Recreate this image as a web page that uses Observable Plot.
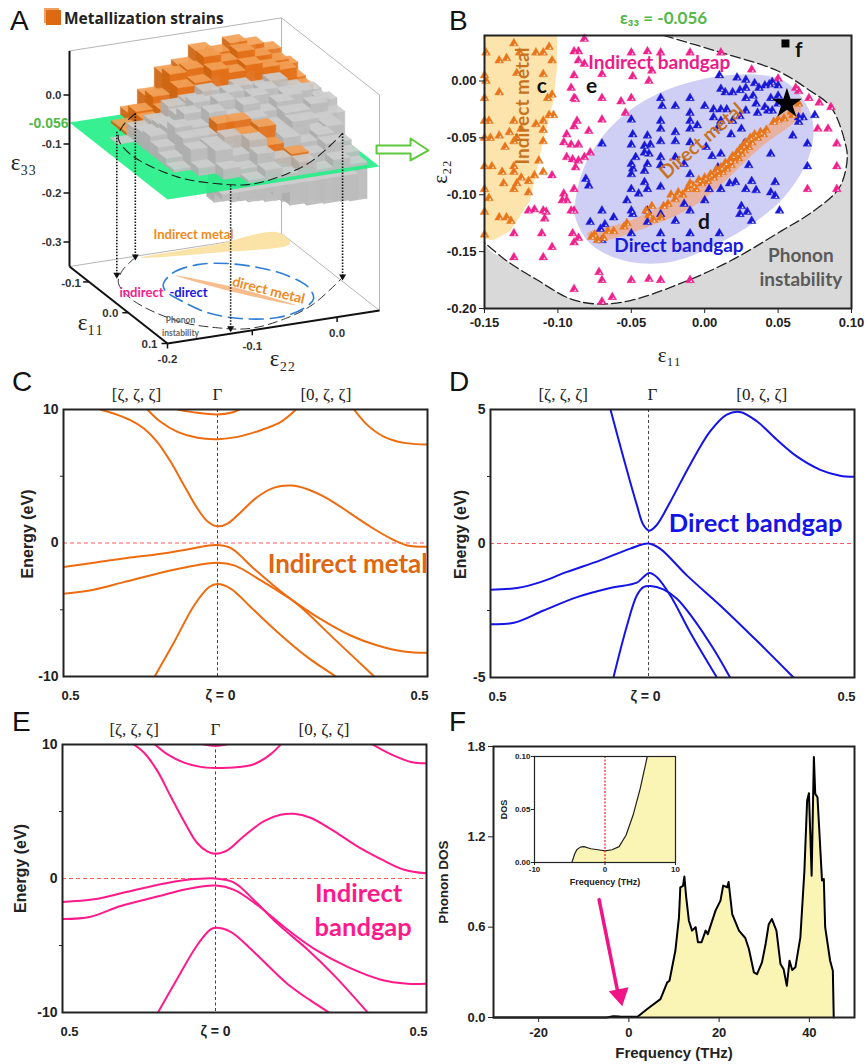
<!DOCTYPE html>
<html><head><meta charset="utf-8">
<script src="https://cdn.jsdelivr.net/npm/d3@7"></script>
<script src="https://cdn.jsdelivr.net/npm/@observablehq/plot@0.6"></script>
<style>
body{margin:0;background:#fff}
#root{position:relative;width:866px;height:1064px;overflow:hidden;background:#fff}
.letter{position:absolute;font:28px "Liberation Sans",sans-serif;color:#111;line-height:28px}
.legend{position:absolute;left:64px;top:8px;font:bold 15.5px "Open Sans",sans-serif;color:#222;line-height:20px}
.swatch{position:absolute;left:46px;top:10px;width:15px;height:15px;background:#dd6a12;box-shadow:-2px -2px 0 #f0a060}
</style></head><body><div id="root"></div>
<script>
// ---------- Panel A: column tops (e33) on the e11 / e22 grid ----------
const cellStep = 0.02;
const e11Rows  = [-.15,-.13,-.11,-.09,-.07,-.05,-.03,-.01,.01,.03,.05,.07,.09];
const e22Start = [-.14,-.16,-.16,-.18,-.18,-.18,-.18,-.16,-.16,-.14,-.12,-.10,-.08];
const e33Tops = [
 [-.04,-.01,.03,.04,.065,.055,.07,.06,.045,.01],
 [-.05,-.025,0,.04,.045,.065,.05,.065,.05,.035,-.005],
 [-.05,-.03,-.015,.025,.03,.05,.04,.05,.04,.03,-.01],
 [-.055,-.03,-.02,.005,.01,.025,.015,.025,.015,.025,.005,-.005],
 [-.056,-.025,-.015,0,.02,.015,.03,.015,.025,.01,.01,-.01],
 [-.056,-.02,-.01,.015,.005,.03,.015,.03,.01,.02,-.005,0],
 [-.056,-.03,.005,0,.025,.01,.03,.01,.025,0,.01,-.015],
 [-.04,-.005,-.005,.015,.015,.015,-.005,.015,-.005,-.01],
 [-.05,-.015,-.01,0,0,.01,-.005,.01,-.015,-.01],
 [-.04,-.01,-.025,0,-.015,-.005,-.02,-.01,-.03],
 [-.035,-.04,-.015,-.03,-.025,-.03,-.015,-.04],
 [-.05,-.035,-.05,-.03,-.05,-.035,-.05],
 [-.056,-.056,-.056,-.056,-.056]
];
const metalRows = [-.15,-.13,-.11];
const metalCells = [[-.01,-.10],[-.01,-.08],[.01,-.08],[.01,-.06],[.03,-.06],[.05,-.04]];
const lowerRows = [.09,.07,.05,.03,.01,-.01,-.03,-.05];
const lowerStart = [-.14,-.14,-.12,-.12,-.10,-.10,-.08,-.06];
const lowerBottoms = [
 [-.067,-.073,-.067,-.073,-.10,-.105,-.107,-.108],
 [-.085,-.09,-.095,-.10,-.105,-.11,-.115,-.12,-.125],
 [-.10,-.105,-.11,-.115,-.12,-.125,-.13,-.135],
 [-.11,-.115,-.12,-.125,-.13,-.135,-.14,-.145],
 [-.12,-.125,-.13,-.135,-.14,-.145,-.15],
 [-.125,-.13,-.135,-.14,-.145,-.15,-.155],
 [-.135,-.14,-.145,-.15,-.155,-.155,-.155],
 [-.14,-.145,-.15,-.155,-.155,-.155]
];
const plateLevel = -0.056;
const plateCorners = [[-.15,-.2],[-.15,.05],[.1,.05],[.1,-.2]];
const floorBoundary = [[-.1465,-.124],[-.1168,-.153],[-.086,-.172],[-.0375,-.18],[.041,-.163],[.077,-.133],[.094,-.0995],[.082,-.0525],[.0555,-.008],[-.005,.055]];
const floorEllipse = [[-.064,-.129],[-.09,-.105],[-.101,-.0715],[-.0915,-.041],[-.068,-.016],[-.034,.003],[.008,.009],[.04,0],[.0625,-.022],[.076,-.059],[.063,-.097],[.033,-.122],[-.011,-.133],[-.0445,-.136]];
const floorDirectMetal = [[-.081,-.107],[-.023,-.063],[.052,-.0245],[-.0095,-.069]];
const floorIndirectMetal = [[-.144,-.119],[-.1474,-.035],[-.154,.048],[-.119,.046],[-.1255,-.037]];
const dropLines = [[-.1465,-.124],[-.105,-.165],[.088,-.12],[-.005,.055]];
const e33Ticks = [0,-.1,-.2,-.3];
const e11Ticks = [-.1,0,.1];
const e22Ticks = [-.2,-.1,0];
const greenArrow = [[.0465,-.0122],[.0465,-.0286],[.0866,-.0394],[.0866,-.0537],[.1078,-.039],[.0866,-.0088],[.0866,-.0231]];

// ---------- Panel B ----------
const boundaryB = [[-.15,.04],[-.028,.04],[.0086,.026],[.0495,.009],[.07,-.007],[.086,-.023],[.096,-.056],[.097,-.07],[.0916,-.094],[.0745,-.114],[.052,-.132],[.0177,-.158],[-.0165,-.178],[-.0506,-.193],[-.0733,-.196],[-.0915,-.1915],[-.114,-.175],[-.135,-.158],[-.15,-.142]];
const metalRegionB = [[-.15,.04],[-.1006,.04],[-.1006,.012],[-.103,-.0175],[-.11,-.053],[-.119,-.105],[-.1325,-.132],[-.144,-.14],[-.15,-.139]];
const ellipseB = [[-.0881,-.1052],[-.0802,-.0701],[-.0597,-.035],[-.0278,-.0088],[.0177,.0053],[.054,0],[.0723,-.0292],[.0723,-.0613],[.054,-.1022],[.0177,-.1372],[-.0233,-.1591],[-.0551,-.1577],[-.0779,-.1431],[-.0881,-.1197]];
const bandB = [[-.0802,-.1343],[-.0506,-.1226],[-.0165,-.0993],[.0313,-.0526],[.0632,-.0175],[.0654,-.0292],[.0381,-.0584],[-.005,-.108],[-.0392,-.1285],[-.0733,-.1402]];
const pinkPts = [[-.082,.037],[-.089,.026],[-.086,.026],[-.086,.018],[-.082,.015],[-.05,.025],[-.039,.026],[-.03,.025],[-.01,.025],[.011,.025],[-.049,.004],[-.038,0],[-.036,.009],[-.07,.006],[-.089,.005],[-.091,-.006],[-.089,-.015],[-.088,-.016],[-.07,-.015],[-.057,-.018],[-.05,-.015],[-.054,-.028],[-.07,-.034],[-.089,-.04],[-.087,-.035],[-.079,-.044],[-.094,-.047],[-.096,-.054],[-.091,-.056],[-.086,-.056],[-.078,-.063],[-.082,-.067],[-.086,-.07],[-.09,-.069],[-.094,-.067],[-.088,-.076],[-.104,-.083],[-.089,-.095],[-.096,-.099],[-.097,-.105],[-.094,-.105],[-.091,-.114],[-.089,-.114],[-.116,-.113],[-.12,-.114],[-.11,-.114],[-.108,-.115],[-.109,-.121],[-.111,-.134],[-.13,-.134],[-.09,-.134],[-.086,-.138],[-.089,-.142],[-.104,-.146],[-.11,-.155],[-.13,-.155],[-.072,-.168],[-.07,-.175],[-.089,-.183],[-.063,-.19],[-.07,-.194],[-.05,-.175],[-.038,-.174],[-.03,-.175],[-.01,-.175],[.032,.01],[.05,.002],[.062,-.006],[.064,-.009],[.071,-.015],[.078,-.019],[.086,-.023],[.084,-.042],[.077,-.042],[.09,-.055],[.09,-.075],[.07,-.095],[.09,-.095]];
const bluePts = [[.01,.005],[.022,.003],[.028,.001],[.011,-.007],[.014,-.01],[.019,-.01],[.024,-.008],[.028,-.006],[.034,-.002],[.037,-.006],[.041,-.004],[.044,-.003],[.046,-.001],[.05,-.004],[.028,-.015],[.033,-.013],[.045,-.015],[.05,-.013],[.035,-.02],[.041,-.023],[.028,-.026],[.036,-.028],[.043,-.026],[.046,-.026],[.006,-.025],[.011,-.025],[.015,-.025],[0,-.022],[-.01,-.015],[-.03,-.015],[-.029,-.022],[-.02,-.022],[-.01,-.028],[.006,-.032],[.011,-.035],[.019,-.035],[.024,-.031],[-.01,-.035],[-.005,-.039],[-.03,-.035],[-.05,-.034],[-.03,-.042],[-.01,-.042],[.009,-.041],[.018,-.047],[.025,-.042],[-.049,-.047],[-.039,-.048],[-.03,-.053],[-.02,-.045],[-.02,-.053],[-.01,-.054],[-.07,-.055],[-.05,-.056],[-.041,-.057],[-.037,-.056],[.001,-.058],[.011,-.064],[-.041,-.063],[-.038,-.064],[-.03,-.067],[-.047,-.067],[-.05,-.073],[-.049,-.077],[-.039,-.073],[-.041,-.079],[-.05,-.082],[-.02,-.067],[-.014,-.073],[-.03,-.074],[.005,-.066],[-.01,-.082],[-.05,-.095],[-.041,-.089],[-.039,-.095],[-.045,-.099],[-.03,-.093],[-.053,-.105],[-.05,-.114],[-.049,-.117],[-.07,-.114],[-.078,-.124],[-.081,-.086],[-.079,-.092],[-.068,-.126],[-.062,-.12],[-.071,-.13],[-.039,-.114],[-.03,-.117],[-.02,-.123],[-.01,-.114],[-.014,-.108],[-.039,-.124],[-.03,-.134],[-.05,-.134],[-.07,-.14],[-.01,-.134],[.01,-.134],[0,-.105],[.003,-.095],[.011,-.095],[.017,-.09],[.021,-.089],[.028,-.095],[.032,-.088],[.035,-.096],[.025,-.11],[.029,-.115],[.024,-.117],[.032,-.123],[.03,-.074],[.048,-.089],[.045,-.098],[.048,-.101],[.051,-.114],[.07,-.075],[.07,-.055],[.06,-.048],[.045,-.064],[.064,-.032],[.067,-.032],[.075,-.03],[.064,-.036],[.05,-.02],[.009,-.076],[.027,-.055]];
const orangePts = [[-.149,.025],[-.13,.033],[-.126,.025],[-.115,.025],[-.11,.025],[-.106,.03],[-.104,.018],[-.14,.018],[-.135,.02],[-.15,.005],[-.149,0],[-.15,-.015],[-.128,.007],[-.11,.006],[-.104,-.012],[-.107,-.015],[-.14,-.01],[-.15,-.035],[-.15,-.05],[-.147,-.035],[-.13,-.035],[-.125,-.042],[-.133,-.045],[-.128,-.05],[-.11,-.035],[-.106,-.03],[-.115,-.038],[-.103,-.03],[-.11,-.043],[-.146,-.05],[-.14,-.048],[-.13,-.053],[-.11,-.053],[-.136,-.058],[-.15,-.075],[-.145,-.075],[-.15,-.095],[-.13,-.08],[-.138,-.08],[-.125,-.085],[-.128,-.09],[-.12,-.088],[-.13,-.075],[-.11,-.08],[-.113,-.07],[-.116,-.083],[-.137,-.09],[-.13,-.095],[-.12,-.098],[-.147,-.103],[-.15,-.115],[-.14,-.12],[-.135,-.12],[-.132,-.123],[-.15,-.135],
[-.077,-.137],[-.075,-.135],[-.073,-.14],[-.069,-.138],[-.066,-.132],[-.062,-.132],[-.055,-.128],[-.053,-.125],[-.04,-.114],[-.038,-.118],[-.035,-.122],[-.03,-.12],[-.036,-.11],[-.028,-.11],[-.025,-.108],[-.023,-.1],[-.02,-.104],[-.018,-.098],[-.015,-.1],[-.012,-.095],[-.01,-.09],[-.008,-.092],[-.006,-.095],[-.004,-.087],[-.002,-.09],[0,-.085],[.002,-.088],[.004,-.082],[.006,-.085],[.008,-.078],[.009,-.082],[.011,-.076],[.012,-.08],[.014,-.072],[.015,-.077],[.017,-.07],[.018,-.074],[.019,-.066],[.02,-.07],[.022,-.063],[.023,-.068],[.024,-.06],[.025,-.064],[.026,-.057],[.027,-.061],[.028,-.054],[.03,-.058],[.031,-.05],[.032,-.054],[.034,-.047],[.036,-.05],[.038,-.045],[.04,-.047],[.042,-.043],[.047,-.036],[.05,-.034],[.054,-.033],[.06,-.03],[.064,-.02],[.059,-.027]];
const starPoint = [[.056,-.02]];
const squarePoint = [[.055,.033]];

// ---------- Panels C, D, E: bands as [k, energy] ----------
const bandsC = [
 [[-.38,10],[-.337,9.7],[-.283,9.2],[-.239,8.58],[-.196,7.58],[-.152,6.08],[-.109,4.33],[-.065,2.58],[-.033,1.63],[0,1.25],[.024,1.45],[.056,2.33],[.095,3.45],[.135,4.15],[.175,4.3],[.214,4.03],[.262,3.33],[.317,2.2],[.365,1.2],[.413,.33],[.452,-.18],[.5,-.28]],
 [[-.228,10],[-.185,9.08],[-.13,8.33],[-.065,7.88],[0,7.78],[.048,7.95],[.103,8.45],[.151,9.08],[.187,10]],
 [[-.13,10],[-.065,9.75],[0,9.63],[.032,9.75],[.052,10]],
 [[.325,10],[.357,8.83],[.397,7.95],[.444,7.5],[.5,7.38]],
 [[-.5,-1.8],[-.402,-1.48],[-.293,-1.12],[-.196,-.85],[-.098,-.48],[-.033,-.2],[0,-.15],[.032,-.38],[.087,-1.93],[.143,-3.43],[.198,-4.8],[.278,-7.18],[.373,-10]],
 [[-.5,-3.8],[-.402,-3.5],[-.304,-2.93],[-.196,-2.3],[-.098,-1.8],[0,-1.48],[.04,-1.68],[.103,-2.8],[.167,-4.05],[.238,-5.55],[.317,-6.93],[.381,-7.68],[.444,-8.13],[.5,-8.23]],
 [[-.204,-10],[-.141,-7.43],[-.076,-4.68],[-.027,-3.3],[0,-3.08],[.032,-3.43],[.079,-4.8],[.143,-6.68],[.214,-8.55],[.282,-10]]
];
const bandsD = [
 [[-.121,5.03],[-.079,3.19],[-.037,1.44],[-.016,.69],[.002,.48],[.02,.69],[.053,1.56],[.101,2.94],[.15,4.19],[.19,4.81],[.222,4.91],[.263,4.56],[.311,3.88],[.36,3.25],[.417,2.75],[.465,2.53],[.5,2.49]],
 [[-.5,-1.73],[-.416,-1.66],[-.342,-1.44],[-.258,-1.06],[-.153,-.63],[-.058,-.19],[0,0],[.028,-.19],[.093,-1.19],[.174,-2.31],[.263,-3.63],[.352,-5]],
 [[-.5,-3.01],[-.426,-2.96],[-.332,-2.5],[-.226,-2],[-.121,-1.66],[-.037,-1.46],[-.016,-1.25],[.002,-1.1],[.02,-1.25],[.053,-1.94],[.101,-3.31],[.166,-5]],
 [[-.111,-5],[-.068,-3.06],[-.037,-1.94],[-.016,-1.63],[.004,-1.59],[.036,-1.71],[.069,-2.06],[.109,-2.81],[.158,-3.94],[.198,-5]]
];
const bandsE = [
 [[-.272,10.08],[-.234,9.4],[-.19,8.03],[-.147,6.15],[-.103,4.28],[-.06,2.65],[-.027,2.03],[0,1.85],[.028,2.1],[.067,3.15],[.115,4.28],[.154,4.75],[.186,4.83],[.225,4.53],[.281,3.53],[.336,2.4],[.392,1.45],[.447,.65],[.5,.38]],
 [[-.201,10.08],[-.158,9.28],[-.103,8.65],[-.049,8.33],[0,8.25],[.044,8.28],[.091,8.53],[.131,9.28],[.157,10.08]],
 [[-.054,10.08],[0,9.9],[.036,10.08]],
 [[.368,10.08],[.415,9.28],[.463,8.7],[.5,8.6]],
 [[-.5,-1.75],[-.397,-1.55],[-.299,-1.05],[-.19,-.48],[-.092,-.1],[0,0],[.044,-.3],[.091,-1.6],[.146,-3.35],[.218,-5.3],[.281,-7.23],[.36,-9.98]],
 [[-.5,-3.03],[-.408,-2.85],[-.31,-2.05],[-.19,-1.35],[-.092,-.78],[0,-.53],[.044,-.85],[.099,-1.98],[.162,-3.6],[.233,-5.23],[.313,-6.6],[.392,-7.55],[.455,-7.85],[.5,-7.85]],
 [[-.188,-10],[-.125,-7.48],[-.06,-4.98],[-.016,-3.8],[0,-3.68],[.036,-3.98],[.091,-5.48],[.17,-7.85],[.225,-9.1],[.269,-10]]
];

// ---------- Panel F ----------
const dosMain = [[-30,0],[-5,0],[-4.3,.004],[-3.5,.008],[-2,.006],[0,.005],[2,.007],[4,.055],[7,.122],[8.5,.233],[9,.244],[10.3,.443],[11.1,.665],[11.4,.865],[12,.875],[12.3,.936],[12.7,.8],[13.3,.643],[14,.577],[14.8,.6],[15.3,.5],[16.1,.5],[17,.577],[17.5,.554],[18,.6],[19.2,.71],[20.3,.776],[20.9,.876],[21.8,.865],[22.1,.9],[22.9,.687],[24.4,.577],[25.8,.528],[26.6,.455],[27.7,.3],[28.4,.288],[29.5,.366],[30.3,.488],[31,.62],[31.7,.654],[32.7,.577],[33.6,.355],[34.3,.32],[35,.21],[35.6,.377],[36.2,.315],[36.9,.333],[38,.532],[38.9,.975],[39.5,1.44],[39.9,1.49],[40.2,1.22],[40.5,.942],[41,1.73],[41.3,1.485],[41.8,1.463],[42.8,.91],[43.2,.92],[43.5,.6],[44.6,.377],[45.2,.31],[45.4,0]];
const dosInset = [[-10,0],[-4.7,0],[-4.3,.008],[-4,.012],[-3.5,.0145],[-3,.015],[-2,.013],[-1,.012],[0,.011],[1,.012],[2,.015],[3,.026],[4,.045],[5,.07],[6,.1],[7,.13]];
const arrowF = [[-6.6,.783],[-2.4,.16]];
const arrowTipF = [[-2,.11]];

// ---------- helpers ----------
const root = document.getElementById("root");
const SANS = "Liberation Sans", SERIF = "Liberation Serif", CAL = "Lato";
const pts = a => a.map(([x,y]) => ({x,y}));
function put(plot){ root.appendChild(plot); return plot; }
function pos(left,top){ return {position:"absolute",left:left+"px",top:top+"px",background:"transparent",fontFamily:SANS,fontWeight:"bold",fontSize:"13px",color:"#222"}; }
[["A",10,7],["B",449,7],["C",12,368],["D",449,368],["E",12,708],["F",449,708]].forEach(([t,x,y])=>{
  const d=document.createElement("div");d.className="letter";d.textContent=t;d.style.left=x+"px";d.style.top=y+"px";root.appendChild(d);
});
const sw=document.createElement("div");sw.className="swatch";root.appendChild(sw);
const lg=document.createElement("div");lg.className="legend";lg.textContent="Metallization strains";root.appendChild(lg);

// ---------- Panel A ----------
const P = (u,v,w=-.35) => ({
  x: 167 + (u-.1)*392 + (v+.2)*848,
  y: 343 + (u-.1)*308 - (v+.2)*132 - (w+.35)*490
});
const key=(u,v)=>u.toFixed(2)+"|"+v.toFixed(2);
const metalSet=new Set(metalCells.map(([u,v])=>key(u,v)));
metalRows.forEach(u=>{const r=e11Rows.indexOf(u);e33Tops[r].forEach((_,j)=>metalSet.add(key(u,e22Start[r]+j*cellStep)));});
const GREY=["#cdcdcd","#bdbdbd","#adadad"], ORG=["#f2a055","#e4711a","#cd6410"];
let fid=0;
function box(out,u,v,lo,hi,col){
  const s=cellStep;
  const face=(c,f)=>{fid++;c.forEach(p=>out.push({...P(...p),id:fid,fill:f}));};
  face([[u,v,lo],[u,v,hi],[u+s,v,hi],[u+s,v,lo]],col[2]);
  face([[u+s,v,lo],[u+s,v,hi],[u+s,v+s,hi],[u+s,v+s,lo]],col[1]);
  face([[u,v,hi],[u,v+s,hi],[u+s,v+s,hi],[u+s,v,hi]],col[0]);
}
const below=[],above=[];
[...lowerRows.keys()].reverse().forEach(r=>{
  const bots=lowerBottoms[r];
  for(let j=bots.length-1;j>=0;j--) box(below,lowerRows[r],lowerStart[r]+j*cellStep,bots[j],plateLevel,GREY);
});
e11Rows.forEach((u,r)=>{
  const tops=e33Tops[r];
  for(let j=tops.length-1;j>=0;j--){
    const v=e22Start[r]+j*cellStep, top=tops[j];
    const metal=metalSet.has(key(u,v));
    const split=metal?top-.045:top;
    if(split>plateLevel) box(above,u,v,plateLevel,split,GREY);
    if(metal) box(above,u,v,Math.max(split,plateLevel),top,ORG);
  }
});
const onLevel=(a,w)=>a.map(([u,v])=>P(u,v,w));
const seg=list=>list.map(([a,b])=>{const p=P(...a),q=P(...b);return {x1:p.x,y1:p.y,x2:q.x,y2:q.y};});
const gridLines=seg([
 [[-.15,-.2,.09],[-.15,.05,.09]],[[-.15,.05,.09],[.1,.05,.09]],[[.1,.05,.09],[.1,.05,-.35]],
 [[-.15,.05,.09],[-.15,.05,-.35]],[[-.15,-.2,-.35],[-.15,.05,-.35]],[[-.15,.05,-.35],[.1,.05,-.35]]]);
const axesA=seg([[[-.15,-.2,.09],[-.15,-.2,-.35]],[[-.15,-.2,-.35],[.1,-.2,-.35]],[[.1,-.2,-.35],[.1,.05,-.35]]]);
const tickA=[
 ...e33Ticks.map(w=>{const p=P(-.15,-.2,w);return{x1:p.x,y1:p.y,x2:p.x-6,y2:p.y};}),
 ...e11Ticks.map(u=>{const p=P(u,-.2);return{x1:p.x,y1:p.y,x2:p.x-6,y2:p.y};}),
 ...e22Ticks.map(v=>{const p=P(.1,v);return{x1:p.x,y1:p.y,x2:p.x,y2:p.y+5};})
];
const dropLinks=dropLines.map(([u,v])=>{const p=P(u,v,plateLevel),q=P(u,v);return{x1:p.x,y1:p.y,x2:q.x,y2:q.y};});
const txt=(arr,o)=>Plot.text(arr,{x:"x",y:"y",text:"t",...o});
put(Plot.plot({width:433,height:380,margin:0,
  style:pos(0,0),
  x:{domain:[0,433],range:[0,433],axis:null},
  y:{domain:[0,380],range:[0,380],axis:null},
  color:{type:"identity"},
  marks:[
    Plot.link(gridLines,{x1:"x1",y1:"y1",x2:"x2",y2:"y2",stroke:"#b5b5b5",strokeWidth:1}),
    Plot.line(onLevel(floorIndirectMetal),{x:"x",y:"y",fill:"#fbe3a8",stroke:null,curve:"catmull-rom-closed"}),
    Plot.line(onLevel(floorDirectMetal),{x:"x",y:"y",fill:"#f8bd8e",stroke:null,curve:"catmull-rom-closed"}),
    Plot.line(onLevel(floorEllipse),{x:"x",y:"y",stroke:"#2f7fd6",strokeWidth:1.6,strokeDasharray:"14,7",curve:"catmull-rom-closed"}),
    Plot.line(onLevel(floorBoundary),{x:"x",y:"y",stroke:"#333",strokeWidth:1,strokeDasharray:"9,5",curve:"catmull-rom"}),
    Plot.line(below,{x:"x",y:"y",z:"id",fill:"fill",stroke:"fill",strokeWidth:.4,fillOpacity:.95}),
    Plot.line(onLevel(plateCorners,plateLevel),{x:"x",y:"y",fill:"#21ee86",fillOpacity:.9,stroke:null}),
    Plot.line(above,{x:"x",y:"y",z:"id",fill:"fill",stroke:"fill",strokeWidth:.4,fillOpacity:.92}),
    Plot.line(onLevel(floorBoundary,plateLevel),{x:"x",y:"y",stroke:"#222",strokeWidth:1.1,strokeDasharray:"9,5",curve:"catmull-rom"}),
    Plot.link(dropLinks,{x1:"x1",y1:"y1",x2:"x2",y2:"y2",stroke:"#111",strokeWidth:1.6,strokeDasharray:"1.5,1.5"}),
    Plot.dot(dropLinks,{x:"x2",y:"y2",dy:-1,symbol:"triangle",rotate:180,r:2.6,fill:"#111"}),
    Plot.link(axesA,{x1:"x1",y1:"y1",x2:"x2",y2:"y2",stroke:"#111",strokeWidth:2}),
    Plot.link(tickA,{x1:"x1",y1:"y1",x2:"x2",y2:"y2",stroke:"#111",strokeWidth:1.5}),
    txt(e33Ticks.map(w=>({...P(-.15,-.2,w),t:w.toFixed(1)})),{textAnchor:"end",dx:-8,fontSize:11.5,fill:"#333"}),
    txt(e11Ticks.map(u=>({...P(u,-.2),t:u.toFixed(1)})),{dx:-18,dy:1,fontSize:11.5,fill:"#333"}),
    txt(e22Ticks.map(v=>({...P(.1,v),t:v.toFixed(1)})),{dy:16,fontSize:11.5,fill:"#333"}),
    txt([{...P(-.15,-.2,plateLevel),t:"-0.056"}],{textAnchor:"end",dx:-1,dy:1,fontSize:14,fill:"#53b848"}),
    txt([{x:23,y:162,t:"ε₃₃"},{x:90,y:322,t:"ε₁₁"},{x:282,y:358,t:"ε₂₂"}],{fontFamily:SERIF,fontWeight:"normal",fontSize:23,fill:"#222"}),
    txt([{x:193,y:234,t:"Indirect metal"}],{fontFamily:CAL,fontSize:13,fill:"#ef8a1e"}),
    txt([{x:268,y:290,t:"direct metal"}],{fontFamily:CAL,fontSize:14,fill:"#ef8a1e",rotate:14}),
    txt([{x:141,y:292,t:"indirect"}],{fontFamily:CAL,fontSize:13,fill:"#f0208c"}),
    txt([{x:188,y:292,t:"-direct"}],{fontFamily:CAL,fontSize:13,fill:"#1818e0"}),
    txt([{x:180,y:320,t:"Phonon"},{x:180,y:333,t:"instability"}],{fontFamily:CAL,fontSize:8.5,fill:"#666"}),
    Plot.line(greenArrow.map(([v,w])=>P(.1,v,w)).concat([P(.1,greenArrow[0][0],greenArrow[0][1])]),{x:"x",y:"y",stroke:"#5cc83c",strokeWidth:2,fill:"#fff"})
  ]}));

// ---------- Panel B ----------
const tri=(a,c)=>[
  Plot.dot(a,{x:d=>d[0],y:d=>d[1],symbol:"triangle",r:3.3,fill:c,stroke:c,strokeWidth:.4}),
  Plot.dot(a,{x:d=>d[0],y:d=>d[1],dx:1.2,dy:1.3,symbol:"triangle",r:.9,fill:"#fff",fillOpacity:.85})
];
put(Plot.plot({width:443,height:370,marginLeft:61,marginRight:15,marginTop:35,marginBottom:62,
  style:pos(423,0),
  x:{domain:[-.15,.1],axis:null},
  y:{domain:[-.2,.04],axis:null},
  marks:[
    Plot.frame({fill:"#d9d9d9",stroke:null}),
    Plot.line(pts(boundaryB),{x:"x",y:"y",fill:"#fff",stroke:null,curve:"catmull-rom-closed",clip:true}),
    Plot.line(pts(metalRegionB),{x:"x",y:"y",fill:"#fce4ac",stroke:null}),
    Plot.line(pts(ellipseB),{x:"x",y:"y",fill:"#cfcff6",stroke:null,curve:"catmull-rom-closed"}),
    Plot.line(pts(bandB),{x:"x",y:"y",fill:"#e8b2a2",stroke:null,curve:"catmull-rom-closed"}),
    Plot.line(pts(boundaryB.slice(1)),{x:"x",y:"y",stroke:"#222",strokeWidth:1.3,strokeDasharray:"10,4",curve:"catmull-rom"}),
    ...tri(pinkPts,"#f0208c"),...tri(bluePts,"#1818d8"),...tri(orangePts,"#e8751a"),
    Plot.dot(starPoint,{x:d=>d[0],y:d=>d[1],symbol:"star",r:9.5,fill:"#000"}),
    Plot.dot(squarePoint,{x:d=>d[0],y:d=>d[1],symbol:"square",r:4.5,fill:"#000"}),
    Plot.frame({stroke:"#222",strokeWidth:2}),
    Plot.axisX({label:null,ticks:[-.15,-.1,-.05,0,.05,.1],tickFormat:d=>d.toFixed(2),tickSize:5,tickPadding:4,fontSize:13}),
    Plot.axisY({label:null,ticks:[-.2,-.15,-.1,-.05,0],tickFormat:d=>d.toFixed(2),tickSize:5,tickPadding:3,fontSize:13}),
    txt([{x:-.024,y:-.236,t:"ε₁₁"}],{fontFamily:SERIF,fontWeight:"normal",fontSize:21,dy:6,fill:"#222"}),
    txt([{x:-.15,y:-.08,t:"ε₂₂"}],{fontFamily:SERIF,fontWeight:"normal",fontSize:21,rotate:-90,dx:-44,fill:"#222"}),
    txt([{x:-.028,y:.04,t:"ε₃₃ = -0.056"}],{fontFamily:CAL,fontSize:17,dy:-17,fill:"#53b848"}),
    txt([{x:-.031,y:.016,t:"Indirect bandgap"}],{fontFamily:CAL,fontSize:19,fill:"#ee1a8a"}),
    txt([{x:-.124,y:-.022,t:"Indirect metal"}],{fontFamily:CAL,fontSize:19,fill:"#c8721e",rotate:-90}),
    txt([{x:-.002,y:-.053,t:"Direct metal"}],{fontFamily:CAL,fontSize:19,fill:"#c8721e",rotate:-41}),
    txt([{x:-.0175,y:-.145,t:"Direct bandgap"}],{fontFamily:CAL,fontSize:19,fill:"#1818e0"}),
    txt([{x:.0655,y:-.154,t:"Phonon"},{x:.0655,y:-.175,t:"instability"}],{fontFamily:CAL,fontWeight:"bold",fontSize:19,fill:"#5a5a5a"}),
    txt([{x:-.111,y:-.005,t:"c"},{x:-.077,y:-.005,t:"e"},{x:.064,y:.027,t:"f"},{x:-.0005,y:-.124,t:"d"}],{fontFamily:CAL,fontSize:21,fill:"#111"})
  ]}));

// ---------- Panels C, D, E ----------
function bandPanel(o){
  const [xL,xC,xR]=o.xr, L=xC-xL, R=xR-xC;
  const warp=k=>k<0?k*2*L:k*2*R;           // the two k paths have different lengths
  const lines=o.bands.map(b=>Plot.line(b,{x:d=>warp(d[0]),y:d=>d[1],stroke:o.color,strokeWidth:2,curve:"catmull-rom",clip:true}));
  const X=k=>[warp(k)];
  const hdr={dy:-15,fontFamily:SERIF,fontWeight:"normal",fontSize:17,fill:"#222"};
  put(Plot.plot({width:433,height:o.h,marginLeft:xL,marginRight:433-xR,marginTop:o.mt,marginBottom:o.h-o.mt-o.frameH,
    style:pos(o.left,o.top),
    x:{domain:[-L,R],axis:null},
    y:{domain:[-o.yMax,o.yMax],axis:null},
    marks:[
      Plot.ruleY([0],{stroke:"#ff5a5a",strokeWidth:1,strokeDasharray:"4,3"}),
      Plot.ruleX([0],{stroke:"#444",strokeWidth:1,strokeDasharray:"3,2.5"}),
      ...lines,
      Plot.frame({stroke:"#222",strokeWidth:2}),
      Plot.axisY({label:null,ticks:[-o.yMax,0,o.yMax],tickFormat:d=>String(d),tickSize:0,tickPadding:5,fontSize:14}),
      Plot.axisY({label:null,ticks:[-o.yMax/2,o.yMax/2],tickFormat:()=>"",tickSize:3}),
      Plot.text([o.labL[0]],{x:X(o.labL[1]),y:[o.yMax],...hdr}),
      Plot.text(["Γ"],{x:[0],y:[o.yMax],dx:o.gdx||0,...hdr}),
      Plot.text([o.labR[0]],{x:X(o.labR[1]),y:[o.yMax],...hdr}),
      Plot.text(["0.5"],{x:[-L],y:[-o.yMax],dx:7,dy:19,fontSize:13,fill:"#222"}),
      Plot.text(["ζ = 0"],{x:[0],y:[-o.yMax],dx:o.zdx||0,dy:19,fontSize:14,fill:"#222"}),
      Plot.text(["0.5"],{x:[R],y:[-o.yMax],dx:-8,dy:19,fontSize:13,fill:"#222"}),
      Plot.text(["Energy (eV)"],{x:[-L],y:[0],dx:o.ldx,dy:o.ldy,rotate:-90,fontSize:16,fill:"#222"}),
      ...o.notes.map(n=>Plot.text([n.t],{x:X(n.x),y:[n.y],fontFamily:CAL,fontSize:n.s,fill:o.note}))
    ]}));
}
bandPanel({left:0,top:370,h:340,mt:39,frameH:267,xr:[63,217,427],yMax:10,color:"#ee6c10",note:"#e0660f",bands:bandsC,
  labL:["[ζ, ζ, ζ]",-.263],labR:["[0, ζ, ζ]",.258],zdx:3,ldx:-36,ldy:-9,
  notes:[{t:"Indirect metal",x:.31,y:-1.6,s:26}]});
bandPanel({left:433,top:370,h:340,mt:39,frameH:268,xr:[57,215,421],yMax:5,color:"#1414e6",note:"#1414e6",bands:bandsD,
  labL:["[ζ, ζ, ζ]",-.27],labR:["[0, ζ, ζ]",.275],gdx:4,zdx:-3,ldx:-30,ldy:-9,
  notes:[{t:"Direct bandgap",x:.26,y:.72,s:25.5}]});
bandPanel({left:0,top:705,h:359,mt:39,frameH:268,xr:[62,215,426],yMax:10,color:"#ff1a8c",note:"#ff1a8c",bands:bandsE,
  labL:["[ζ, ζ, ζ]",-.266],labR:["[0, ζ, ζ]",.257],ldx:-42,ldy:-10,
  notes:[{t:"Indirect",x:.339,y:-1.15,s:25.5},{t:"bandgap",x:.35,y:-3.65,s:25.5}]});

// ---------- Panel F ----------
put(Plot.plot({width:433,height:359,marginLeft:60,marginRight:12,marginTop:41,marginBottom:47,
  style:pos(433,705),
  x:{domain:[-30,50],axis:null},
  y:{domain:[0,1.8],axis:null},
  marks:[
    Plot.areaY(dosMain,{x:d=>d[0],y:d=>d[1],fill:"#fbf5b5"}),
    Plot.line(dosMain,{x:d=>d[0],y:d=>d[1],stroke:"#000",strokeWidth:2}),
    Plot.frame({stroke:"#222",strokeWidth:2}),
    Plot.axisX({label:null,ticks:[-20,0,20,40],tickFormat:d=>String(d),tickSize:5,tickPadding:5,fontSize:13}),
    Plot.axisY({label:null,ticks:[0,.6,1.2,1.8],tickFormat:d=>d.toFixed(1),tickSize:5,tickPadding:3,fontSize:13}),
    Plot.text(["Phonon DOS"],{x:[-30],y:[.9],dx:-50,rotate:-90,fontSize:13.5,fill:"#222"}),
    Plot.text(["Frequency (THz)"],{x:[10],y:[0],dy:36,fontSize:15,fill:"#222"}),
    Plot.line(arrowF,{x:d=>d[0],y:d=>d[1],stroke:"#f01488",strokeWidth:3.5}),
    Plot.dot(arrowTipF,{x:d=>d[0],y:d=>d[1],dy:-6,symbol:"triangle",rotate:168,r:7.5,fill:"#f01488"})
  ]}));
put(Plot.plot({width:189,height:156,marginLeft:36,marginRight:12,marginTop:10,marginBottom:40,
  style:{...pos(498,746),fontSize:"9px"},
  x:{domain:[-10,10],axis:null},
  y:{domain:[0,.1],axis:null},
  marks:[
    Plot.areaY(dosInset,{x:d=>d[0],y:d=>d[1],fill:"#fbf5b5",clip:true}),
    Plot.areaY([[6,.1],[10,.1]],{x:d=>d[0],y:d=>d[1],fill:"#fbf5b5"}),
    Plot.line(dosInset,{x:d=>d[0],y:d=>d[1],stroke:"#222",strokeWidth:1.2,clip:true}),
    Plot.ruleX([0],{stroke:"#f03030",strokeWidth:1.3,strokeDasharray:"2,1.5"}),
    Plot.frame({stroke:"#222",strokeWidth:1.2}),
    Plot.axisX({label:null,ticks:[-10,0,10],tickFormat:d=>String(d),tickSize:3,tickPadding:1,fontSize:8}),
    Plot.axisY({label:null,ticks:[0,.05,.1],tickFormat:d=>d.toFixed(2),tickSize:3,tickPadding:1,fontSize:8}),
    Plot.text(["Frequency (THz)"],{x:[0],y:[0],dy:20,fontSize:9,fill:"#222"}),
    Plot.text(["DOS"],{x:[-10],y:[.05],dx:-30,rotate:-90,fontSize:9,fill:"#222"})
  ]}));
</script></body></html>
